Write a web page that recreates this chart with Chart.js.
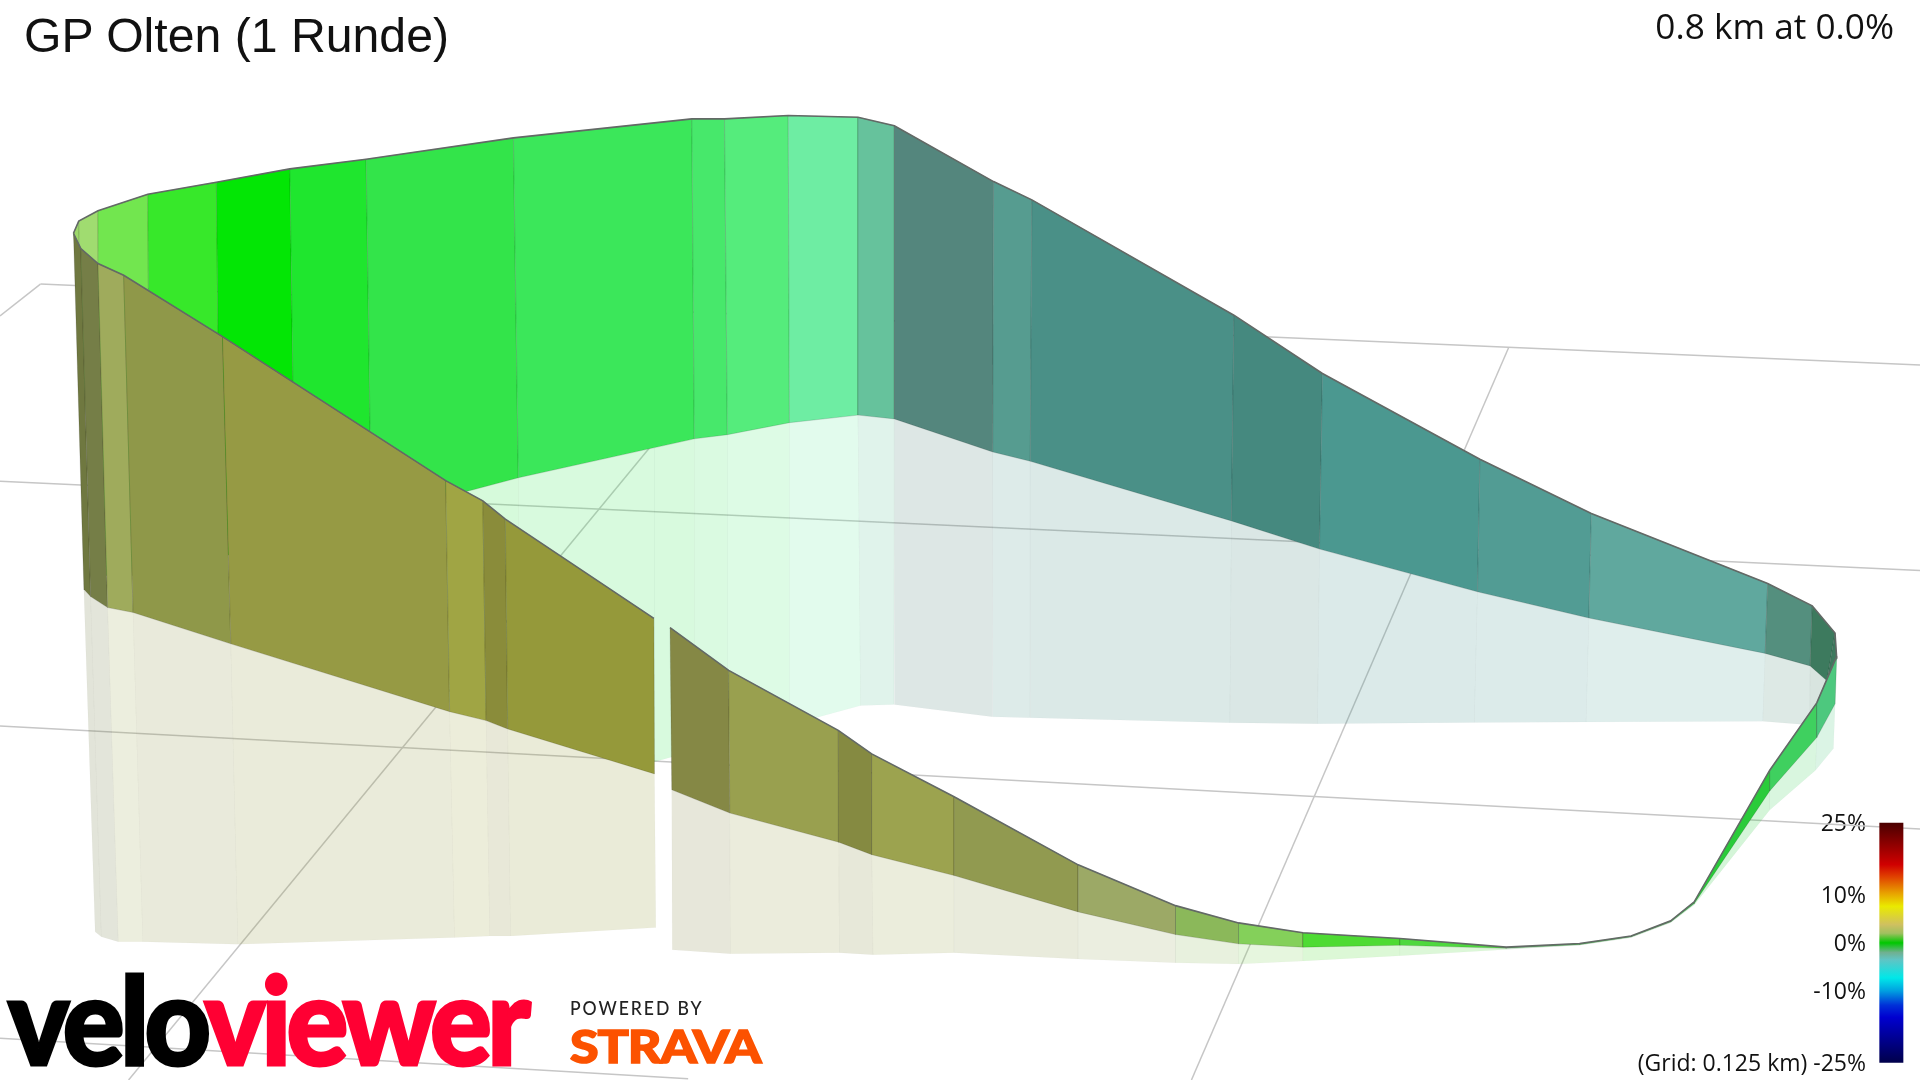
<!DOCTYPE html>
<html><head><meta charset="utf-8">
<script src="https://cdn.jsdelivr.net/npm/chart.js@4"></script>
<style>
html,body{margin:0;padding:0;background:#fff;width:1920px;height:1080px;overflow:hidden}
#c{position:absolute;left:0;top:0}
.t{position:absolute;white-space:nowrap;line-height:1}
#title{left:24px;top:11px;font:48.2px "Liberation Sans",Arial,sans-serif;line-height:1;color:#111}
#info{right:26px;top:8px;font:35.2px "Open Sans",sans-serif;line-height:1;color:#111}
#logo{left:8px;top:957px;font:900 122px Lato,sans-serif;line-height:1;letter-spacing:-5px;transform-origin:0 0;transform:scaleX(.945)}
#logo .a{color:#000;-webkit-text-stroke:3px #000}#logo .b{color:#ff0033;-webkit-text-stroke:3px #ff0033}
#pb{left:570px;top:997px;font:500 20px Lato,sans-serif;line-height:1;letter-spacing:2.2px;color:#222;transform-origin:0 0;transform:scaleX(.88)}
#st{left:570px;top:1023px;font:900 46px Lato,sans-serif;line-height:1;color:#fc5200;-webkit-text-stroke:1.5px #fc5200;transform-origin:0 0;transform:scaleX(1.13);letter-spacing:-1px}
</style></head><body>
<canvas id="c" width="1920" height="1080"></canvas>
<div class="t" id="title">GP Olten (1 Runde)</div>
<div class="t" id="info">0.8 km at 0.0%</div>
<div class="t" id="logo"><span class="a">velo</span><span class="b">viewer</span></div>
<div class="t" id="pb">POWERED BY</div>
<div class="t" id="st">STRAVA</div>
<script>
// ---- ground grid (projected plane units) ----
const gridStartX=[0,0,0,0,1232,531];
const gridStartY=[258,393,593,848,284,365];
const gridEndX=[33,1568,1568,562,973,105];
const gridEndY=[232,466,677,881,882,882];
const gridBackX=[33,1568], gridBackY=[232,298];

// ---- front-left wall ----
const frontTopX=[60,66,80,101,181.7,364,394.3,412.7,534];
const frontTopY=[190.5,203,215.2,224.8,274.9,392.5,409,424,505];
const frontBotX=[68.5,74,87.9,108.7,188.5,367.2,397,414.6,534.5];
const frontBotY=[481.2,487.2,496.2,500.2,525.8,581.2,588.5,595.3,632];
const frontShadeX=[77.7,82.8,96.6,116.7,194.3,371.2,400,417,535.6];
const frontShadeY=[761,765.1,769,769,771.1,765.7,764.3,764.3,757.5];
const frontColors=["#6f7840","#757e47","#9fab5c","#8f9849","#969a44","#a0a544","#8a8c3a","#95993a"];

// ---- back wall ----
const backTopX=[60,64.3,80,120.7,176.7,236.7,299,419.3,565,591.7,643.7,700.7,730.4,811.4,842.7,1007.7,1080,1208.6,1299.6,1443.6,1480,1498.6,1500];
const backTopY=[190.5,180.6,172.2,158.7,148.8,137.9,130,112.6,97.1,97.1,94.3,95.7,102.7,148.3,163.2,257.4,305,375,419.4,476.5,494.8,517,538];
const backBotX=[65,67,81,122.7,180,241,303.3,423.3,567,594,644.7,700.7,730.4,810.7,841.4,1005.7,1077.6,1206.6,1297.6,1441.6,1478.3,1492,1492];
const backBotY=[250,300,470,470,455,439,422,390.2,358.4,355,345.2,339,342.1,369.1,376.7,425.4,448.4,483.3,504.7,533.6,543.8,556,556];
const backColors=["#9dd86a","#a0dc70","#72e64f","#37e82a","#03e605","#1fe62e","#33e44a","#3be75a","#47e86b","#55ec7c","#6eeda3","#66c29c","#54867d","#569c90","#4a9087","#45897f","#4b9890","#529c94","#60a89e","#548f7e","#3d7a5e","#3d7a5e"];

// ---- back wall ground shade ----
const shadeTopX=[303.3,423.3,534.6,567,594,644.7,700.7,730.4,810.7,841.4,1005.7,1077.6,1206.6,1297.6,1441.6,1478.3,1492];
const shadeTopY=[422,390.2,365.6,358.4,355,345.2,339,342.1,369.1,376.7,425.4,448.4,483.3,504.7,533.6,543.8,556];
const shadeBotX=[303.3,423.3,534.6,567,594,644.7,702.8,730.1,810.4,841.3,1004.4,1076,1204,1295.3,1439.6,1478,1492];
const shadeBotY=[555,590,622,613.2,605.8,592,576.2,575.4,585.4,586.2,590.3,591,590,589.6,589,592,580];
const shadeColorIndex=[6,7,7,8,9,10,11,12,13,14,15,16,17,18,19,20];

// ---- front-right wall ----
const rightTopX=[547.2,595.1,684.6,711.9,779.2,880.5,960,1011.5,1064.1,1143.3,1230,1290,1332,1364.4,1383.6,1445.3,1483.7,1500];
const rightTopY=[512.5,547.5,596.5,615.7,650.7,706.3,739.6,753.7,761.8,766.4,773.5,770.5,764.4,752,736.5,629,574,536];
const rightBotX=[548.6,596,685,712,779.2,880.5,960,1011.5,1064.1,1143.3,1230,1290,1332,1364.4,1383.6,1445.3,1483.7,1498.7];
const rightBotY=[645,664,687.8,698,715,744.7,763.2,770.8,773.5,772,774.5,771.5,765.2,753,738,645.9,602.3,574.7];
const rightShadeX=[549,596.5,685.5,713,779.2,880.5,960,1011.5,1064.1,1143.3,1230,1290,1332,1364.4,1383.6,1445.3,1482.7,1497.3];
const rightShadeY=[775.7,778.9,778,779.7,778,783.2,786.2,787.3,784.8,780.5,775.5,772,765.8,753.5,739,661.4,629,611.3];
const rightColors=["#858845","#99a04f","#858a41","#9ca34f","#919a50","#9ca966","#8bb85a","#84d05a","#4edb33","#4ed83e","#50b858","#50b858","#50b858","#3fc050","#2acb3a","#3fd05f","#4dc87e"];

// ---- gradient legend ----
const legendTicks=[25,10,0,-10,-25];
const legendStops=[[25,"#4a0000"],[16.3,"#d00000"],[13.8,"#e04000"],[10.4,"#e8a000"],[7.6,"#eaea00"],[3.8,"#cfc060"],[2,"#a0c060"],[0,"#00c800"],[-2,"#70b090"],[-3.5,"#60c4c4"],[-7.3,"#00e8e8"],[-10,"#00a0e0"],[-13,"#0030d8"],[-15.5,"#0000d0"],[-25,"#00004a"]];
const legendBarX=[1534.8,1554.4,1554.4,1534.8];
const legendBarY=[672,672,868,868];

const edgeColor="#636966";
const U=1920/1568;
function rgba(h,a){const n=parseInt(h.slice(1),16);return `rgba(${n>>16},${(n>>8)&255},${n&255},${a})`;}
function pts(xs,ys){return xs.map((x,i)=>({x,y:ys[i]}));}
function poly(p,fill,border,bw){const q=p.concat([p[0]]);return {data:q,showLine:true,pointRadius:0,fill:'shape',backgroundColor:fill,borderColor:border||'rgba(0,0,0,0)',borderWidth:bw===undefined?1:bw,tension:0,clip:false};}
function line(p,color,w){return {data:p,showLine:true,pointRadius:0,fill:false,borderColor:color,borderWidth:w,tension:0,clip:false};}
function quads(tx,ty,bx,by,cols,alpha,border){const o=[];for(let i=0;i<cols.length;i++){const c=alpha<1?rgba(cols[i],alpha):cols[i];o.push(poly([{x:tx[i],y:ty[i]},{x:tx[i+1],y:ty[i+1]},{x:bx[i+1],y:by[i+1]},{x:bx[i],y:by[i]}],c,border));}return o;}

const canvas=document.getElementById('c');const ctx=canvas.getContext('2d');
const grad=ctx.createLinearGradient(0,672*U,0,868*U);
legendStops.forEach(s=>grad.addColorStop((25-s[0])/50,s[1]));

const layers=[];
gridStartX.forEach((x,i)=>{layers.push(line([{x,y:gridStartY[i]},{x:gridEndX[i],y:gridEndY[i]}],'#c6c6c6',1.5));});
layers.push(line(pts(gridBackX,gridBackY),'#c6c6c6',1.5));
const shadeCols=shadeColorIndex.map(i=>backColors[i]);
layers.push(...quads(shadeTopX,shadeTopY,shadeBotX,shadeBotY,shadeCols,.2,'rgba(0,0,0,.012)'));
layers.push(...quads(backTopX,backTopY,backBotX,backBotY,backColors,1,'rgba(0,0,0,.13)'));
layers.push(line(pts(backTopX,backTopY),edgeColor,1.6));
layers.push(...quads(frontBotX,frontBotY,frontShadeX,frontShadeY,frontColors,.2,'rgba(0,0,0,.012)'));
layers.push(...quads(rightBotX,rightBotY,rightShadeX,rightShadeY,rightColors,.2,'rgba(0,0,0,.012)'));
layers.push(...quads(frontTopX,frontTopY,frontBotX,frontBotY,frontColors,1,'rgba(0,0,0,.13)'));
layers.push(line(pts(frontTopX,frontTopY),edgeColor,1.6));
layers.push(...quads(rightTopX,rightTopY,rightBotX,rightBotY,rightColors,1,'rgba(0,0,0,.13)'));
layers.push(line(pts(rightTopX,rightTopY),edgeColor,1.6));
layers.push(poly(pts(legendBarX,legendBarY),grad,'rgba(0,0,0,0)',0));

new Chart(ctx,{type:'scatter',
 data:{datasets:layers.reverse()},
 options:{responsive:false,animation:false,events:[],
  layout:{padding:0,autoPadding:false},
  plugins:{legend:{display:false},tooltip:{enabled:false},filler:{propagate:false}},
  scales:{
   x:{type:'linear',min:0,max:1568,display:false},
   y:{type:'linear',min:0,max:882,reverse:true,display:false},
   legendAxis:{type:'linear',position:'right',min:25-(882-673)/3.92,max:25+673/3.92,
    grid:{display:false,drawTicks:false},border:{display:false},
    afterBuildTicks:a=>{a.ticks=legendTicks.map(v=>({value:v}));},
    afterFit:s=>{s.width=0;s.paddingTop=0;s.paddingBottom=0;s.paddingLeft=0;s.paddingRight=0;},
    ticks:{mirror:true,padding:-54,autoSkip:false,maxRotation:0,color:'#111',
     font:{family:'"Open Sans"',size:23},
     callback:v=>v===-25?'(Grid: 0.125 km) -25%':v+'%'}}
  }}});
</script></body></html>
